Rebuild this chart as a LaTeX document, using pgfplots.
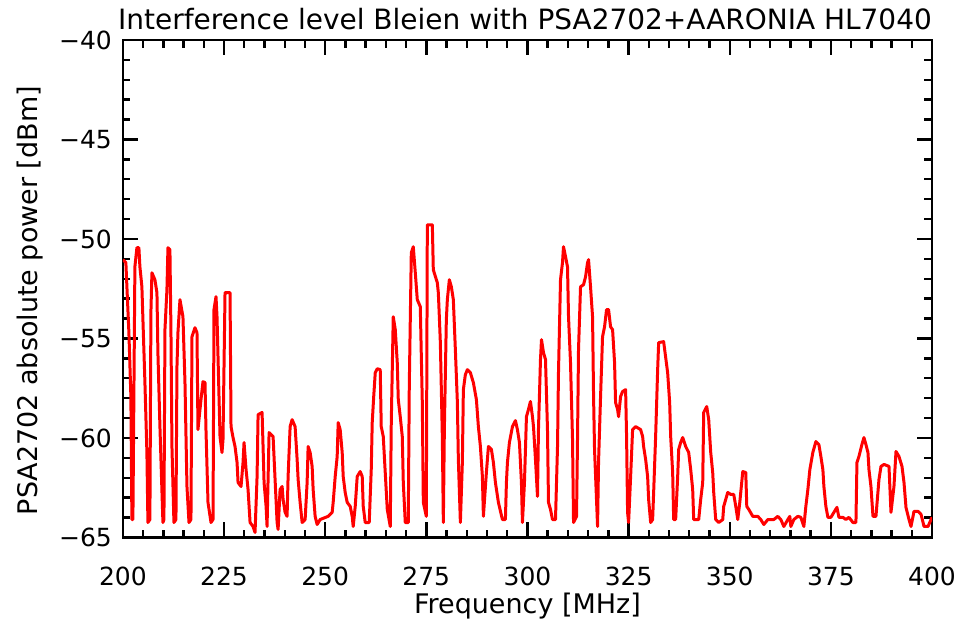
\documentclass[border=0pt]{standalone}
\usepackage{fontspec}
\setmainfont{DejaVu Sans}
\usepackage{pgfplots}
\pgfplotsset{compat=1.18}
\begin{document}
\begin{tikzpicture}
\useasboundingbox (-61.5pt,-43pt) rectangle (419.5pt,269pt);
\begin{axis}[
  scale only axis, width=405pt, height=249pt,
  xmin=200, xmax=400, ymin=-65, ymax=-40,
  xtick={200,225,...,400}, minor x tick num=4,
  ytick={-65,-60,...,-40}, yticklabels={−65,−60,−55,−50,−45,−40}, minor y tick num=4,
  axis line style={line width=1.2pt},
  every tick/.style={black, line width=1.2pt},
  major tick length=7.5pt, minor tick length=3.8pt,
  tick label style={font=\fontsize{12.5}{14}\selectfont},
  /pgf/number format/assume math mode=true,
  /pgf/number format/set thousands separator={},
  xticklabel style={anchor=base, yshift=-24pt},
  yticklabel style={anchor=east, xshift=-2pt},
  title={Interference level Bleien with PSA2702+AARONIA HL7040},
  title style={font=\fontsize{14}{16}\selectfont, at={(axis description cs:0.497,1)}, anchor=base, yshift=-1pt},
  xlabel={Frequency [MHz]},
  ylabel={PSA2702 absolute power [dBm]},
  label style={font=\fontsize{13.5}{16}\selectfont},
  xlabel style={at={(axis description cs:0.5,0)}, anchor=base, yshift=-38pt},
  ylabel style={at={(axis description cs:-0.115,0.476)}, anchor=center},
]
\addplot[red, line width=1.5pt, line join=round] coordinates {
(200.00,-51.04) (200.74,-51.19) (201.49,-54.71) (201.98,-57.92) (202.23,-64.10) (202.48,-64.10) (202.72,-57.92) (202.97,-51.40) (203.47,-50.44) (203.96,-50.44) (204.21,-51.40) (204.70,-52.40) (205.45,-57.22) (205.94,-60.73) (206.19,-64.25) (206.68,-64.10) (206.93,-53.70) (207.18,-51.70) (207.92,-52.05) (208.42,-52.70) (208.66,-55.71) (209.16,-59.43) (209.90,-64.25) (210.15,-64.10) (210.40,-54.56) (210.89,-52.55) (211.14,-50.44) (211.63,-50.54) (211.88,-54.56) (212.13,-60.43) (212.62,-64.25) (213.12,-64.10) (213.37,-56.42) (213.61,-54.71) (214.11,-53.05) (214.85,-53.91) (215.35,-57.22) (215.84,-62.44) (216.34,-64.25) (216.83,-64.10) (217.08,-54.91) (217.82,-54.46) (218.32,-54.71) (218.56,-59.58) (219.31,-58.07) (219.80,-57.17) (220.30,-57.22) (220.54,-59.58) (221.04,-63.24) (221.78,-64.25) (222.28,-64.10) (222.40,-59.08) (222.52,-53.55) (223.02,-52.90) (223.27,-53.91) (224.01,-59.93) (224.50,-60.73) (224.75,-60.08) (225.25,-52.70) (226.49,-52.70) (226.73,-59.43) (227.23,-59.98) (227.72,-60.43) (228.22,-61.23) (228.47,-62.24) (229.21,-62.44) (229.70,-61.23) (229.95,-60.23) (230.45,-61.59) (230.94,-62.59) (231.44,-64.25) (232.18,-64.45) (232.67,-64.75) (233.17,-61.94) (233.42,-58.83) (234.41,-58.72) (234.65,-60.43) (234.90,-62.24) (235.40,-63.44) (235.64,-64.45) (235.89,-62.09) (236.14,-59.73) (237.13,-59.93) (237.62,-62.09) (238.12,-64.25) (238.37,-64.60) (238.86,-62.59) (239.36,-62.44) (239.60,-63.09) (240.10,-63.74) (240.59,-63.94) (240.84,-61.94) (241.34,-59.43) (241.83,-59.08) (242.57,-59.43) (243.07,-61.08) (243.32,-62.09) (243.81,-63.24) (244.31,-64.25) (245.05,-64.10) (245.54,-62.24) (245.79,-60.43) (246.29,-60.73) (246.78,-61.43) (247.03,-62.59) (247.52,-63.94) (248.02,-64.35) (248.76,-64.10) (250.74,-63.94) (251.73,-63.74) (251.98,-63.24) (252.48,-61.94) (252.97,-60.93) (253.22,-59.23) (253.71,-59.58) (254.21,-60.73) (254.46,-61.94) (254.95,-62.74) (255.45,-63.24) (256.19,-63.44) (256.68,-63.94) (256.93,-64.45) (257.43,-63.44) (257.92,-61.94) (258.66,-61.69) (259.16,-61.94) (259.41,-63.44) (259.90,-64.25) (260.89,-64.25) (261.39,-61.59) (261.63,-59.23) (262.00,-57.92) (262.38,-56.72) (262.87,-56.52) (263.61,-56.57) (263.86,-59.43) (264.36,-59.93) (264.85,-61.74) (265.35,-63.59) (266.09,-64.45) (266.34,-59.23) (266.83,-53.91) (267.33,-54.56) (267.82,-56.21) (268.07,-58.07) (268.56,-58.93) (269.06,-59.93) (269.31,-62.24) (269.80,-64.25) (270.54,-64.25) (270.79,-57.42) (271.29,-50.69) (271.78,-50.39) (272.28,-51.70) (272.77,-53.05) (273.51,-53.40) (274.01,-58.22) (274.26,-63.24) (275.00,-63.94) (275.25,-49.29) (276.49,-49.29) (276.73,-51.55) (277.72,-52.20) (277.97,-52.70) (278.22,-53.91) (278.47,-55.21) (278.96,-59.93) (279.21,-64.25) (279.46,-59.58) (279.95,-54.06) (280.20,-53.05) (280.69,-52.05) (281.19,-52.40) (281.68,-53.05) (282.18,-55.56) (282.67,-58.17) (282.92,-61.08) (283.42,-64.25) (283.91,-61.23) (284.16,-57.57) (284.65,-56.82) (285.15,-56.57) (285.89,-56.72) (286.63,-57.22) (287.38,-58.07) (287.87,-59.43) (288.37,-60.43) (288.86,-61.94) (289.11,-63.94) (289.85,-61.74) (290.35,-60.43) (291.09,-60.58) (291.58,-61.23) (292.08,-62.24) (292.82,-63.24) (293.81,-64.10) (294.55,-64.10) (294.80,-62.24) (295.05,-61.23) (295.54,-60.23) (296.29,-59.43) (297.03,-59.13) (297.52,-59.58) (298.02,-60.23) (298.51,-62.24) (298.76,-64.25) (299.26,-62.24) (299.75,-58.93) (300.25,-58.57) (300.74,-58.17) (301.24,-58.93) (301.49,-59.43) (301.98,-61.08) (302.48,-62.94) (302.72,-59.58) (303.22,-56.06) (303.47,-55.06) (303.96,-55.71) (304.46,-56.06) (304.95,-59.58) (305.20,-63.24) (305.69,-63.59) (306.19,-64.10) (306.93,-64.10) (307.43,-60.43) (307.67,-56.72) (308.17,-52.05) (308.66,-51.19) (308.91,-50.39) (309.41,-50.89) (309.90,-51.40) (310.15,-53.91) (310.64,-56.21) (311.14,-60.08) (311.39,-64.25) (312.13,-63.94) (312.38,-59.93) (312.62,-55.56) (313.12,-52.40) (313.86,-52.30) (314.36,-51.90) (314.85,-51.19) (315.10,-51.04) (315.59,-52.40) (316.09,-53.91) (316.34,-57.92) (316.58,-60.58) (317.33,-64.45) (317.57,-61.23) (318.07,-57.92) (318.56,-54.91) (319.06,-54.41) (319.55,-53.55) (320.05,-53.55) (320.54,-54.41) (321.04,-54.56) (321.53,-56.21) (321.78,-58.22) (322.28,-58.57) (322.52,-58.93) (323.02,-57.92) (323.51,-57.67) (324.26,-57.57) (324.50,-59.93) (324.75,-63.74) (325.00,-64.25) (325.50,-61.94) (325.99,-59.58) (326.73,-59.43) (327.97,-59.58) (328.47,-59.93) (328.71,-60.43) (329.21,-61.08) (329.70,-61.94) (329.95,-63.09) (330.45,-64.25) (330.94,-64.10) (331.19,-62.74) (331.68,-59.93) (332.18,-56.57) (332.43,-55.21) (333.66,-55.16) (334.65,-56.72) (335.15,-58.22) (335.40,-59.93) (335.89,-61.74) (336.14,-64.10) (336.63,-64.10) (337.13,-61.94) (337.38,-60.58) (337.87,-60.23) (338.37,-59.98) (339.11,-60.43) (339.85,-60.73) (340.35,-61.59) (340.84,-62.59) (341.09,-64.10) (342.33,-64.10) (342.82,-63.09) (343.32,-62.24) (343.56,-58.72) (344.31,-58.42) (344.80,-59.08) (345.30,-60.73) (345.79,-61.74) (346.04,-62.74) (346.53,-64.10) (347.28,-64.25) (348.27,-64.10) (348.51,-63.44) (349.01,-63.09) (349.50,-62.74) (350.25,-62.84) (350.99,-62.84) (351.49,-63.44) (351.98,-64.10) (352.48,-63.24) (353.22,-61.69) (353.96,-61.74) (354.21,-63.44) (354.70,-63.59) (355.69,-63.94) (356.93,-63.94) (357.67,-64.10) (358.42,-64.35) (359.41,-64.10) (360.89,-64.10) (361.88,-63.94) (362.62,-64.10) (363.37,-64.45) (364.36,-64.10) (364.85,-63.94) (365.10,-64.45) (365.84,-64.10) (366.83,-63.94) (367.57,-63.99) (368.32,-64.45) (368.81,-63.44) (369.31,-62.59) (369.80,-61.59) (370.54,-60.73) (371.29,-60.18) (372.03,-60.33) (372.52,-60.93) (373.02,-61.59) (373.27,-62.44) (373.76,-63.44) (374.26,-63.99) (375.00,-63.99) (375.74,-63.74) (376.49,-63.49) (376.98,-63.99) (377.97,-63.99) (378.71,-64.10) (379.46,-63.99) (380.45,-64.25) (381.19,-64.25) (381.44,-61.23) (381.93,-60.93) (382.67,-60.33) (383.17,-59.98) (383.66,-60.33) (384.16,-60.73) (384.41,-61.59) (384.90,-62.44) (385.40,-63.94) (386.14,-63.94) (386.88,-62.09) (387.38,-61.43) (388.12,-61.33) (389.36,-61.43) (389.85,-63.74) (390.59,-62.44) (391.09,-60.68) (391.83,-60.93) (392.57,-61.43) (393.07,-62.24) (393.56,-63.49) (394.31,-64.10) (394.80,-64.45) (395.54,-63.69) (396.53,-63.69) (397.28,-63.84) (398.02,-64.45) (399.01,-64.45) (399.75,-64.10) (400.00,-63.99)
};
\end{axis}
\end{tikzpicture}
\end{document}
